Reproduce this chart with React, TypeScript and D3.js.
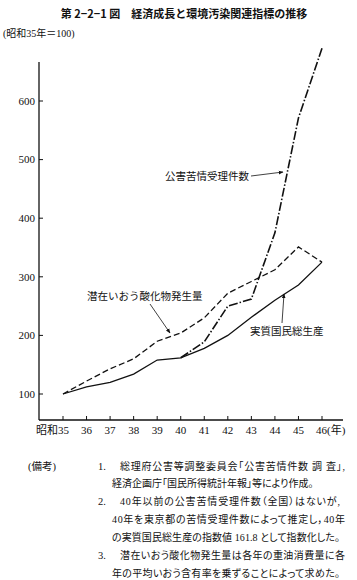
import React from 'react';
import * as d3 from 'd3';

const years = [35, 36, 37, 38, 39, 40, 41, 42, 43, 44, 45, 46];
const gnpValues = [100, 112, 120, 134, 158, 161.8, 178, 200, 231, 260, 286, 325];
const soxValues = [100, 122, 143, 160, 190, 204, 230, 272, 292, 312, 351, 325];
const complaintYears = [40, 41, 42, 43, 44, 45, 46];
const complaintValues = [161.8, 189, 250, 262, 375, 571, 690];
const yTicks = [100, 200, 300, 400, 500, 600];
const xTickLabels = ['昭和35', '36', '37', '38', '39', '40', '41', '42', '43', '44', '45', '46(年)'];

const title = '第 2−2−1 図　経済成長と環境汚染関連指標の推移';
const subtitle = '(昭和35年＝100)';
const labelComplaints = '公害苦情受理件数';
const labelSox = '潜在いおう酸化物発生量';
const labelGnp = '実質国民総生産';
const noteHead = '(備考)';
const notes = [
  { num: '1.', text: '総理府公害等調整委員会「公害苦情件数 調 査」,' },
  { num: '', text: '経済企画庁「国民所得統計年報」等により作成。' },
  { num: '2.', text: '40年以前の公害苦情受理件数（全国）はないが,' },
  { num: '', text: '40年を東京都の苦情受理件数によって推定し，40年' },
  { num: '', text: 'の実質国民総生産の指数値 161.8 として指数化した。' },
  { num: '3.', text: '潜在いおう酸化物発生量は各年の重油消費量に各' },
  { num: '', text: '年の平均いおう含有率を乗ずることによって求めた。' },
];
const noteWidths = [225, 0, 220, 233, 228, 225, 228];

const FONT = "'Liberation Serif', 'Noto Sans CJK JP', serif";

export default function App() {
  const W = 357, H = 580;
  const x = d3.scaleLinear().domain([35, 46]).range([63, 322]);
  const y = d3.scaleLinear().domain([100, 600]).range([394, 101]);
  const axisX = 39, axisBottom = 420, axisTop = 62, axisRight = 343;

  const line = d3.line<[number, number]>().x(d => x(d[0])).y(d => y(d[1]));
  const gnpPath = line(years.map((yr, i) => [yr, gnpValues[i]]));
  const soxPath = line(years.map((yr, i) => [yr, soxValues[i]]));
  const compPath = line(complaintYears.map((yr, i) => [yr, complaintValues[i]]));

  const noteYs = [466, 483, 501, 519, 537, 555, 573];

  return (
    <svg width={W} height={H} style={{ position: 'absolute', left: 0, top: 0, background: '#fff' }}
      fontFamily={FONT}>
      <defs>
        <marker id="arr" viewBox="0 0 10 10" refX="9" refY="5" markerWidth="6" markerHeight="6" orient="auto">
          <path d="M0,1 L10,5 L0,9 z" fill="#111" />
        </marker>
      </defs>
      <rect width={W} height={H} fill="#fff" />
      <text x={184} y={18} textAnchor="middle" fontSize={11} fontWeight={700}
        fontFamily="'Noto Sans CJK JP', sans-serif" fill="#111">{title}</text>
      <text x={3} y={37} fontSize={10} fill="#111">{subtitle}</text>

      {/* axes */}
      <line x1={axisX} x2={axisX} y1={axisTop} y2={axisBottom} stroke="#111" strokeWidth={1.3} />
      <line x1={axisX} x2={axisRight} y1={axisBottom} y2={axisBottom} stroke="#111" strokeWidth={1.3} />
      {yTicks.map(t => (
        <g key={t}>
          <line x1={axisX} x2={axisX + 4} y1={y(t)} y2={y(t)} stroke="#111" strokeWidth={1} />
          <text x={axisX - 4} y={y(t)} dy="0.35em" textAnchor="end" fontSize={11} fill="#111">{t}</text>
        </g>
      ))}
      {years.map((yr, i) => (
        <g key={yr}>
          <line x1={x(yr)} x2={x(yr)} y1={axisBottom} y2={axisBottom - 4} stroke="#111" strokeWidth={1} />
          <text x={i === 0 ? x(yr) + 6 : i === years.length - 1 ? x(yr) - 6 : x(yr)}
            y={axisBottom + 14}
            textAnchor={i === 0 ? 'end' : i === years.length - 1 ? 'start' : 'middle'}
            fontSize={11} fill="#111">{xTickLabels[i]}</text>
        </g>
      ))}

      {/* series */}
      <path d={gnpPath || ''} fill="none" stroke="#111" strokeWidth={1.3} />
      <path d={soxPath || ''} fill="none" stroke="#111" strokeWidth={1.3} strokeDasharray="6,3" />
      <path d={compPath || ''} fill="none" stroke="#111" strokeWidth={1.6} strokeDasharray="9,2,1.5,2" />

      {/* labels */}
      <text x={165} y={180} fontSize={10.5} fill="#111">{labelComplaints}</text>
      <line x1={251} y1={176} x2={283} y2={172} stroke="#111" strokeWidth={0.8} markerEnd="url(#arr)" />
      <text x={87} y={300} fontSize={10.5} fill="#111">{labelSox}</text>
      <line x1={150} y1={304} x2={170} y2={333} stroke="#111" strokeWidth={0.8} markerEnd="url(#arr)" />
      <text x={250} y={335} fontSize={10.5} fill="#111">{labelGnp}</text>
      <line x1={282} y1={323} x2={284} y2={294} stroke="#111" strokeWidth={0.8} markerEnd="url(#arr)" />

      {/* notes */}
      <text x={28} y={noteYs[0] + 4} fontSize={10.5} fill="#111">{noteHead}</text>
      {notes.map((n, i) => (
        <g key={i}>
          {n.num && <text x={98} y={noteYs[i] + 4} fontSize={10.5} fill="#111">{n.num}</text>}
          <text x={n.num ? 120 : 112} y={noteYs[i] + 4} fontSize={10}
            style={{ fontFeatureSettings: "'palt'" }}
            {...(noteWidths[i] ? { textLength: noteWidths[i], lengthAdjust: 'spacing' } : {})}
            fill="#111">{n.text}</text>
        </g>
      ))}
    </svg>
  );
}
